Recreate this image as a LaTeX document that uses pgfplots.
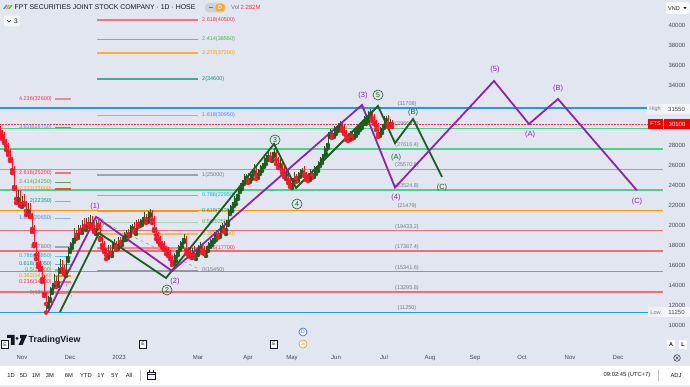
\documentclass[border=0pt]{standalone}
\usepackage{fontspec}
\setmainfont{Liberation Sans}
\usepackage{pgfplots}
\pgfplotsset{compat=1.18}
\usepackage{pgfplotstable}
\definecolor{bg}{RGB}{225,230,241}
\definecolor{txt}{RGB}{19,23,34}
\definecolor{axtxt}{RGB}{70,74,86}
\definecolor{fgray}{RGB}{120,123,134}
\definecolor{cgreen}{RGB}{27,94,32}
\definecolor{cred}{RGB}{255,20,40}
\definecolor{wpurple}{RGB}{142,36,170}
\definecolor{wgreen}{RGB}{27,94,32}
\definecolor{lblue}{RGB}{33,150,243}
\definecolor{lgreen}{RGB}{70,212,140}
\definecolor{lorange}{RGB}{255,152,0}
\definecolor{lred}{RGB}{242,110,115}
\definecolor{fred}{RGB}{242,54,69}
\definecolor{fgreen}{RGB}{76,175,80}
\definecolor{fteal}{RGB}{8,153,129}
\definecolor{fcyan}{RGB}{0,188,212}
\definecolor{fblue}{RGB}{41,98,255}
\definecolor{fpurple}{RGB}{149,117,205}
\definecolor{dblue}{RGB}{41,98,255}

% OHLC in hundreds of VND, x in bar position
\pgfplotstableread{
x o h l c
0 296 299 291 293
2 293 295 286 289
4 289 293 282 284
6 284 286 275 279
8 279 282 270 273
10 273 276 264 266
12 266 268 252 255
14 255 259 236 238
16 238 240 222 226
18 226 235 223 232
20 232 235 219 221
22 221 229 218 227
24 227 231 220 222
26 222 224 210 214
28 214 222 211 219
30 219 222 208 210
32 210 212 193 196
34 196 200 179 181
36 181 183 166 170
38 170 173 158 161
40 161 164 155 157
42 157 159 143 146
44 146 150 129 131
46 131 133 112.5 121
48 121 129 118 126
50 126 138 124 135
52 135 142 132 140
54 140 151 138 147
56 147 149 138 142
58 142 158 139 155
60 155 166 153 163
62 163 165 153 156
64 156 160 151 153
66 153 169 149 167
68 167 178 164 175
70 175 183 173 180
72 180 187 177 185
74 185 197 183 193
76 193 195 186 190
78 190 200 187 197
80 197 200 193 195
82 195 205 192 203
84 203 207 197 199
86 199 207 195 205
88 205 208 198 201
90 201 210 199 207
92 207 209 197 200
94 200 204 193 195
96 195 205 191 203
98 203 207.5 197 200
100 200 203 185 187
102 187 189 177 180
104 180 184 173 175
106 175 177 166 170
108 170 180 167 177
110 177 180 170 172
112 172 182 169 180
114 180 186 178 182
116 182 184 175 179
118 179 188 176 185
120 185 188 181 183
122 183 189 180 187
124 187 193 185 189
126 189 195 185 193
128 193 196 188 191
130 191 200 189 197
132 197 201 194 199
134 199 203 193 195
136 195 205 191 203
138 203 206 198 201
140 201 206 199 203
142 203 208 200 206
144 206 213 204 209
146 209 211 202 206
148 206 214 203 211
150 211 216 209 213
152 213 215 202 205
154 205 209 194 196
156 196 198 186 190
158 190 193 183 186
160 186 189 180 182
162 182 184 177 180
164 180 184 175 177
166 177 179 171 175
168 175 178 169 172
170 172 175 166 168
172 168 170 160 163
174 163 172 161 168
176 168 175 164 173
178 173 180 170 177
180 177 184 175 181
182 181 187 178 185
184 185 191 183 187
186 187 189 171 175
188 175 178 170 173
190 173 176 168 170
192 170 177 167 175
194 175 179 168 170
196 170 175 166 173
198 173 180 170 177
200 177 183 175 180
202 180 182 172 175
204 175 179 171 173
206 173 179 169 177
208 177 183 174 180
210 180 186 178 183
212 183 187 180 185
214 185 193 183 189
216 189 195 185 193
218 193 196 187 190
220 190 200 188 197
222 197 202 194 200
224 200 204 193 195
226 195 205 191 203
228 203 216 200 213
230 213 220 211 217
232 217 223 214 221
234 221 229 219 225
236 225 231 221 229
238 229 238 226 235
240 235 242 233 239
242 239 245 236 243
244 243 251 241 247
246 247 251 243 249
248 249 252 242 245
250 245 252 243 249
252 249 255 246 253
254 253 261 251 257
256 257 259 246 250
258 250 256 247 253
260 253 260 251 257
262 257 262 254 260
264 260 269 258 265
266 265 270 261 268
268 268 273 265 270
270 270 273 265 267
272 267 273 264 271
274 271 277 269 273
276 273 275 261 265
278 265 268 257 260
280 260 266 258 263
282 263 265 252 255
284 255 259 248 250
286 250 255 246 253
288 253 256 242 245
290 245 248 238 240
292 240 247 237 245
294 245 253 243 249
296 249 251 243 247
298 247 253 244 250
300 250 256 248 253
302 253 257 250 255
304 255 259 249 251
306 251 253 245 249
308 249 252 244 247
310 247 256 245 253
312 253 255 247 250
314 250 259 248 255
316 255 259 251 257
318 257 264 254 261
320 261 268 259 265
322 265 271 262 269
324 269 279 267 275
326 275 282 271 280
328 280 293 277 290
330 290 296 288 293
332 293 295 287 290
334 290 299 288 295
336 295 299 291 297
338 297 302 294 299
340 299 304 297 301
342 301 303 294 297
344 297 301 291 293
346 293 295 285 289
348 289 292 284 287
350 287 294 285 291
352 291 293 286 289
354 289 297 287 293
356 293 297 289 295
358 295 300 292 297
360 297 303 295 300
362 300 305 297 303
364 303 309 301 305
366 305 309 301 307
368 307 314 304 311
370 311 315.5 309 313
372 313 315 304 307
374 307 311 301 303
376 303 305 295 299
378 299 302 288 291
380 291 298 289 295
382 295 301 292 299
384 299 309 297 305
386 305 309 301 307
388 307 310 298 301
390 301 306 299 303
392 303 305 298 301
}\candles

\begin{document}
\begin{tikzpicture}[x=1pt,y=1pt]
\fill[bg] (0,0) rectangle (690,387);
\fill[white] (0,2) rectangle (690,21);
\fill[bg!70!white] (0,0) rectangle (690,2);
\begin{axis}[
  at={(0,39)}, anchor=south west, scale only axis,
  width=663pt, height=348pt,
  xmin=0, xmax=663, ymin=7700, ymax=42500,
  clip=false,
  axis line style={draw=none},
  major tick length=0pt,
  scaled y ticks=false,
  ytick={10000,12000,14000,16000,18000,20000,22000,24000,26000,28000,34000,36000,38000,40000},
  yticklabel pos=right,
  yticklabel style={font=\fontsize{6}{7}\selectfont, text=axtxt, anchor=west, xshift=2pt},
  xtick={22,70,119,198,248,292,336,384,430,475,522,570,618},
  xticklabels={Nov,Dec,2023,Mar,Apr,May,Jun,Jul,Aug,Sep,Oct,Nov,Dec},
  xticklabel style={font=\fontsize{6}{7}\selectfont, text=axtxt, yshift=-4pt},
  /pgf/number format/1000 sep={},
  /pgf/number format/assume math mode=true,
]
% ---- full-width fib retracement levels
\addplot[lblue, line width=1.4pt] coordinates {(0,31708) (663,31708)};
\addplot[fred, line width=0.5pt, densely dotted] coordinates {(0,30100) (663,30100)};
\addplot[lgreen, line width=1pt] coordinates {(0,29663.2) (663,29663.2)};
\addplot[lgreen, line width=2pt] coordinates {(0,27616.4) (663,27616.4)};
\addplot[lgreen, line width=1.2pt] coordinates {(0,25570.6) (663,25570.6)};
\addplot[lgreen, line width=2pt] coordinates {(0,23524.8) (663,23524.8)};
\addplot[lorange, line width=1.2pt] coordinates {(0,21479) (663,21479)};
\addplot[lred, line width=1.5pt] coordinates {(0,19433.2) (663,19433.2)};
\addplot[lred, line width=1.5pt] coordinates {(0,17387.4) (663,17387.4)};
\addplot[lred, line width=1.5pt] coordinates {(0,15341.6) (663,15341.6)};
\addplot[lred, line width=1.5pt] coordinates {(0,13295.8) (663,13295.8)};
\addplot[lblue, line width=1.2pt] coordinates {(0,11250) (663,11250)};
\begin{scope}[every node/.style={text=fgray, font=\fontsize{5.5}{6}\selectfont, yshift=4pt}]
\node at (407,31708) {(31708)};
\node at (407,29663.2) {(29663.2)};
\node at (407,27616.4) {(27616.4)};
\node at (407,25570.6) {(25570.6)};
\node at (407,23524.8) {(23524.8)};
\node at (407,21479) {(21479)};
\node at (407,19433.2) {(19433.2)};
\node at (407,17387.4) {(17387.4)};
\node at (407,15341.6) {(15341.6)};
\node at (407,13295.8) {(13295.8)};
\node at (407,11250) {(11250)};
\end{scope}
% ---- upper fib extension (short segments)
\addplot[fred!70, line width=1.2pt] coordinates {(97,40500) (198,40500)};
\addplot[fgreen!80, line width=1.2pt] coordinates {(97,38550) (198,38550)};
\addplot[lorange!80, line width=1.2pt] coordinates {(97,37200) (198,37200)};
\addplot[fteal!80, line width=1.2pt] coordinates {(97,34600) (198,34600)};
\addplot[fblue!50, line width=1.5pt] coordinates {(97,30950) (198,30950)};
\addplot[fgray!70, line width=1.5pt] coordinates {(97,25000) (198,25000)};
\addplot[fcyan!70, line width=1.2pt] coordinates {(97,22950) (198,22950)};
\addplot[fteal!60, line width=1.5pt] coordinates {(97,21350) (198,21350)};
\addplot[fgreen!50, line width=1.5pt] coordinates {(97,20250) (198,20250)};
\addplot[lorange!70, line width=1.2pt] coordinates {(97,19100) (198,19100)};
\addplot[fred!60, line width=1.2pt] coordinates {(97,17700) (198,17700)};
\addplot[fgray!80, line width=1.2pt] coordinates {(97,15450) (198,15450)};
\begin{scope}[every node/.style={anchor=west, font=\fontsize{5.5}{6}\selectfont, inner sep=0pt}]
\node[text=fred] at (202,40500) {2.618(40500)};
\node[text=fgreen] at (202,38550) {2.414(38550)};
\node[text=lorange] at (202,37200) {2.272(37200)};
\node[text=fteal] at (202,34600) {2(34600)};
\node[text=fblue!80] at (202,30950) {1.618(30950)};
\node[text=fgray] at (202,25000) {1(25000)};
\node[text=fcyan] at (202,22950) {0.786(22950)};
\node[text=fteal] at (202,21350) {0.618(21350)};
\node[text=fgreen] at (202,20250) {0.5(20250)};
\node[text=lorange] at (202,19100) {0.382(19100)};
\node[text=fred] at (202,17700) {0.236(17700)};
\node[text=fgray] at (202,15450) {0(15450)};
\end{scope}
% ---- left fib extension
\addplot[fred!60, line width=1.2pt] coordinates {(55,32600) (71,32600)};
\addplot[fpurple, line width=1.2pt] coordinates {(55,29750) (71,29750)};
\addplot[fred!70, line width=1.2pt] coordinates {(55,25200) (71,25200)};
\addplot[fgreen, line width=1.2pt] coordinates {(55,24250) (71,24250)};
\addplot[fred!80!lorange, line width=1.2pt] coordinates {(55,23600) (71,23600)};
\addplot[fteal!60, line width=1.5pt] coordinates {(55,22350) (71,22350)};
\addplot[fblue!50, line width=1.8pt] coordinates {(55,20650) (71,20650)};
\addplot[fgray!70, line width=1.2pt] coordinates {(55,17800) (71,17800)};
\addplot[fcyan!70, line width=1.2pt] coordinates {(55,16850) (71,16850)};
\addplot[fteal!70, line width=1.2pt] coordinates {(55,16050) (71,16050)};
\addplot[fgreen!70, line width=1.2pt] coordinates {(55,15500) (71,15500)};
\addplot[lorange, line width=1.2pt] coordinates {(55,14900) (71,14900)};
\addplot[fred!70, line width=1.2pt] coordinates {(55,14300) (71,14300)};
\addplot[fgray!70, line width=1.2pt] coordinates {(55,13150) (71,13150)};
\begin{scope}[every node/.style={anchor=east, font=\fontsize{5.5}{6}\selectfont, inner sep=0pt}]
\node[text=fred] at (52,32600) {4.236(32600)};
\node[text=fpurple] at (52,29750) {3.618(29750)};
\node[text=fred] at (52,25200) {2.618(25200)};
\node[text=fgreen] at (52,24250) {2.414(24250)};
\node[text=lorange] at (52,23600) {2.272(23600)};
\node[text=fteal] at (52,22350) {2(22350)};
\node[text=fblue!80] at (52,20650) {1.618(20650)};
\node[text=fgray] at (52,17800) {1(17800)};
\node[text=fcyan] at (52,16850) {0.786(16850)};
\node[text=fteal] at (52,16050) {0.618(16050)};
\node[text=fgreen] at (52,15500) {0.5(15500)};
\node[text=lorange] at (52,14900) {0.382(14900)};
\node[text=fred] at (52,14300) {0.236(14300)};
\node[text=fgray] at (52,13150) {0(13150)};
\end{scope}
% dashed trend lines of the fib tools
\addplot[fgray!80, dashed, line width=0.5pt] coordinates {(103,20300) (197,15700)};
\addplot[fgray!80, dashed, line width=0.5pt] coordinates {(66,14100) (72,12800)};
% ---- candles: wicks
\addplot[cgreen, only marks, mark=none, restrict expr to domain={\thisrow{c}-\thisrow{o}}{0:1000},
  error bars/.cd, y dir=plus, y explicit, error mark=none, error bar style={line width=0.4pt, cgreen}]
  table[x=x, y expr=\thisrow{l}*100, y error plus expr=(\thisrow{h}-\thisrow{l})*100] {\candles};
\addplot[cred, only marks, mark=none, restrict expr to domain={\thisrow{o}-\thisrow{c}}{0.5:1000},
  error bars/.cd, y dir=plus, y explicit, error mark=none, error bar style={line width=0.4pt, cred}]
  table[x=x, y expr=\thisrow{l}*100, y error plus expr=(\thisrow{h}-\thisrow{l})*100] {\candles};
% ---- candles: bodies
\addplot[cgreen, only marks, mark=none, restrict expr to domain={\thisrow{c}-\thisrow{o}}{0:1000},
  error bars/.cd, y dir=plus, y explicit, error mark=none, error bar style={line width=0.95pt, cgreen}]
  table[x=x, y expr=\thisrow{o}*100, y error plus expr=(\thisrow{c}-\thisrow{o})*100] {\candles};
\addplot[cred, only marks, mark=none, restrict expr to domain={\thisrow{o}-\thisrow{c}}{0.5:1000},
  error bars/.cd, y dir=plus, y explicit, error mark=none, error bar style={line width=0.95pt, cred}]
  table[x=x, y expr=\thisrow{c}*100, y error plus expr=(\thisrow{o}-\thisrow{c})*100] {\candles};
% ---- Elliott waves
\addplot[wgreen, line width=1.8pt] coordinates {(60,11300) (99,19200) (166,14700) (274,28100) (296,23700) (378,31900) (395,28200) (413,30600) (442,24800)};
\addplot[wpurple, line width=1.8pt] coordinates {(48,11300) (96,20800) (172,15400) (362,32000) (395,23750) (494,34400) (529,30100) (558,32600) (637,23450)};
\begin{scope}[every node/.style={font=\fontsize{7.5}{8}\selectfont, inner sep=0pt}]
\node[text=wpurple] at (95,21800) {(1)};
\node[text=wpurple] at (175,14300) {(2)};
\node[text=wpurple] at (363,32900) {(3)};
\node[text=wpurple] at (396,22700) {(4)};
\node[text=wpurple] at (495,35500) {(5)};
\node[text=wpurple] at (530,29000) {(A)};
\node[text=wpurple] at (558,33600) {(B)};
\node[text=wpurple] at (637,22300) {(C)};
\node[text=wgreen] at (396,26700) {(A)};
\node[text=wgreen] at (413,31200) {(B)};
\node[text=wgreen] at (442,23700) {(C)};
\end{scope}
\begin{scope}[every node/.style={circle, draw, line width=0.6pt, minimum size=10pt, inner sep=0pt, font=\fontsize{7}{7}\selectfont}]
\node[draw=fgray, text=fgray] at (99,20200) {1};
\node[draw=wgreen, text=wgreen] at (167,13500) {2};
\node[draw=wgreen, text=wgreen] at (275,28500) {3};
\node[draw=wgreen, text=wgreen] at (297,22100) {4};
\node[draw=wgreen, text=wgreen] at (378,33000) {5};
\end{scope}
\end{axis}
% ---- header
\begin{scope}[shift={(0,387)}]
\fill[lblue] (3,-9) -- (6,-5) -- (7.5,-5) -- (4.5,-9) -- cycle;
\fill[lorange] (5.5,-9) -- (8.5,-5) -- (10,-5) -- (7,-9) -- cycle;
\fill[fgreen] (8,-9) -- (11,-5) -- (12.5,-5) -- (9.5,-9) -- cycle;
\node[anchor=west, inner sep=0pt, text=txt, font=\fontsize{6.9}{8}\selectfont] at (14.5,-7.5) {FPT SECURITIES JOINT STOCK COMPANY · 1D · HOSE};
\fill[fgray!35, rounded corners=4pt] (205,-12.5) rectangle (226,-3);
\fill[lorange!85, rounded corners=2.5pt] (215.5,-11.5) rectangle (224.5,-4);
\draw[txt!60, line width=0.8pt] (208.5,-7.7) -- (212.5,-7.7);
\node[text=white, font=\fontsize{5.5}{6}\selectfont\bfseries, inner sep=0pt] at (220,-7.7) {D};
\node[anchor=west, inner sep=0pt, font=\fontsize{6}{7}\selectfont] at (231,-7.5) {\textcolor{fgray}{Vol}\,\textcolor{fred}{2.282M}};
\fill[white!60!bg, rounded corners=1.5pt] (4,-26.5) rectangle (20,-15.5);
\draw[txt, line width=0.6pt] (7,-20) -- (9,-22) -- (11,-20);
\node[text=txt, font=\fontsize{6.5}{7}\selectfont, inner sep=0pt] at (16,-21) {3};
\fill[white, rounded corners=1.5pt] (666,-14) rectangle (689,-2.5);
\node[anchor=west, inner sep=0pt, text=txt, font=\fontsize{5.5}{6}\selectfont] at (668,-8.2) {VND};
\fill[txt] (683.5,-7.2) -- (686.5,-7.2) -- (685,-9.2) -- cycle;
\end{scope}
% ---- price badges
\fill[bg!60!white] (647,272.5) rectangle (663,282.5);
\node[text=fgray, font=\fontsize{5.5}{6}\selectfont, inner sep=0pt] at (655,277.5) {High};
\fill[bg!40!white] (663,272.5) rectangle (690,282.5);
\node[text=axtxt, font=\fontsize{6}{7}\selectfont, inner sep=0pt] at (676.5,277.5) {31550};
\fill[red!95!black] (648,258) rectangle (663,268);
\node[text=white, font=\fontsize{5.5}{6}\selectfont, inner sep=0pt] at (655.5,263) {FTS};
\fill[red!95!black] (664,258) rectangle (690,268);
\node[text=white, font=\fontsize{6}{7}\selectfont, inner sep=0pt] at (677,263) {30100};
\fill[bg!60!white] (648,69.5) rectangle (663,79.5);
\node[text=fgray, font=\fontsize{5.5}{6}\selectfont, inner sep=0pt] at (655.5,74.5) {Low};
\fill[bg!40!white] (663,69.5) rectangle (690,79.5);
\node[text=axtxt, font=\fontsize{6}{7}\selectfont, inner sep=0pt] at (676.5,74.5) {11250};
% ---- A / L / settings
\fill[white] (667,38) rectangle (675,46.5);
\node[text=txt, font=\fontsize{5.5}{6}\selectfont\bfseries, inner sep=0pt] at (671,42.2) {A};
\fill[white] (679,38) rectangle (687,46.5);
\node[text=txt, font=\fontsize{5.5}{6}\selectfont\bfseries, inner sep=0pt] at (683,42.2) {L};
\draw[axtxt, line width=0.6pt] (677,29) circle (3.3);
\draw[axtxt, line width=0.5pt] (675.6,27.6) -- (678.4,30.4) (675.6,30.4) -- (678.4,27.6);
% ---- TradingView logo and event markers
\fill[txt] (7,49) rectangle (14.5,52) (10.8,42) rectangle (14.5,52);
\fill[txt] (17,48.6) circle (1.6);
\fill[txt] (20,52) -- (27,52) -- (22.5,42) -- (18.5,42) -- (21.5,48.5) -- (20,48.5) -- cycle;
\node[anchor=west, inner sep=0pt, text=txt, font=\fontsize{8.8}{9}\selectfont\bfseries] at (28.5,47) {TradingView};
\foreach \ex/\ey in {5/42.5,143/43,274/43}{
  \fill[white] (\ex-3.5,\ey-4) rectangle (\ex+3.5,\ey+4);
  \draw[txt, line width=0.5pt] (\ex-3.5,\ey-4) rectangle (\ex+3.5,\ey+4);
  \node[text=txt, font=\fontsize{5}{6}\selectfont, inner sep=0pt] at (\ex,\ey) {E};
}
\draw[dblue, fill=white, line width=0.6pt] (303,55) circle (4);
\node[text=dblue, font=\fontsize{5}{6}\selectfont, inner sep=0pt] at (303,55) {D};
\draw[lorange, fill=white, line width=0.6pt] (303,43) circle (4);
\node[text=lorange, font=\fontsize{5}{6}\selectfont, inner sep=0pt] at (303,43) {S};
% ---- bottom toolbar
\begin{scope}[every node/.style={text=txt, font=\fontsize{5.8}{6}\selectfont, inner sep=0pt}]
\node at (11,11.5) {1D};
\node at (23.5,11.5) {5D};
\node at (36,11.5) {1M};
\node at (50,11.5) {3M};
\node at (69,11.5) {6M};
\node at (86,11.5) {YTD};
\node at (101,11.5) {1Y};
\node at (115,11.5) {5Y};
\node at (129,11.5) {All};
\node at (627,11.5) {09:02:45 (UTC+7)};
\node at (676,11.5) {ADJ};
\end{scope}
\draw[fgray!50, line width=0.4pt] (140,6) -- (140,17) (658,6) -- (658,17);
\draw[txt, line width=0.5pt] (147,7.5) rectangle (155,15) (147,13) -- (155,13) (149,15) -- (149,16.5) (153,15) -- (153,16.5);
\pgfresetboundingbox
\path (0,0) rectangle (690,387);
\end{tikzpicture}
\end{document}
